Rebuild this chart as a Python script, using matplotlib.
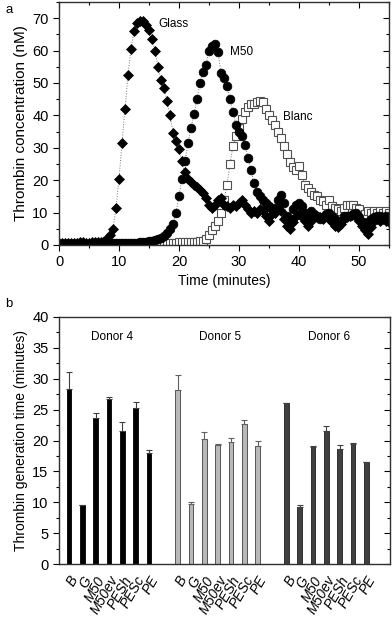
import numpy as np
import matplotlib
matplotlib.use("Agg")
import matplotlib.pyplot as plt
from matplotlib.ticker import MultipleLocator

plt.rcParams['font.family'] = ['Liberation Sans', 'DejaVu Sans']

# ---- panel a: thrombin generation curves (sampled every 0.5 min) ----
time_min = [
    0.0, 0.5, 1.0, 1.5, 2.0, 2.5, 3.0, 3.5, 4.0, 4.5,
    5.0, 5.5, 6.0, 6.5, 7.0, 7.5, 8.0, 8.5, 9.0, 9.5,
    10.0, 10.5, 11.0, 11.5, 12.0, 12.5, 13.0, 13.5, 14.0, 14.5,
    15.0, 15.5, 16.0, 16.5, 17.0, 17.5, 18.0, 18.5, 19.0, 19.5,
    20.0, 20.5, 21.0, 21.5, 22.0, 22.5, 23.0, 23.5, 24.0, 24.5,
    25.0, 25.5, 26.0, 26.5, 27.0, 27.5, 28.0, 28.5, 29.0, 29.5,
    30.0, 30.5, 31.0, 31.5, 32.0, 32.5, 33.0, 33.5, 34.0, 34.5,
    35.0, 35.5, 36.0, 36.5, 37.0, 37.5, 38.0, 38.5, 39.0, 39.5,
    40.0, 40.5, 41.0, 41.5, 42.0, 42.5, 43.0, 43.5, 44.0, 44.5,
    45.0, 45.5, 46.0, 46.5, 47.0, 47.5, 48.0, 48.5, 49.0, 49.5,
    50.0, 50.5, 51.0, 51.5, 52.0, 52.5, 53.0, 53.5, 54.0, 54.5,
    55.0,
]

glass = [
    0.5, 0.5, 0.5, 0.5, 0.5, 0.6, 0.7, 0.8, 0.8, 0.7,
    0.7, 0.8, 0.8, 0.9, 1.0, 1.3, 2.0, 3.0, 5.0, 11.5,
    20.5, 31.5, 42.0, 52.5, 60.5, 66.0, 68.5, 69.0, 69.0, 68.0,
    66.5, 63.5, 60.0, 55.0, 51.0, 48.5, 44.5, 40.0, 34.5, 32.0,
    29.5, 26.0, 22.5, 20.5, 19.5, 18.5, 18.0, 17.0, 16.0, 14.5,
    12.5, 11.5, 12.5, 14.0, 14.5, 12.5, 12.0, 11.5, 12.5, 12.0,
    13.0, 14.0, 12.5, 11.0, 10.0, 10.5, 10.0, 11.0, 10.5, 9.0,
    7.5, 9.5, 10.0, 11.5, 10.5, 8.0, 6.0, 5.0, 7.0, 9.0,
    9.5, 8.5, 7.5, 6.0, 7.5, 9.0, 8.5, 8.5, 8.0, 9.0,
    8.0, 7.0, 6.0, 5.5, 6.5, 8.0, 8.5, 9.0, 9.5, 8.5,
    7.5, 6.0, 4.5, 3.5, 5.5, 7.5, 8.0, 7.5, 8.0, 7.5,
    7.0,
]

m50 = [
    0.4, 0.4, 0.4, 0.4, 0.4, 0.4, 0.4, 0.4, 0.4, 0.4,
    0.4, 0.4, 0.4, 0.4, 0.4, 0.4, 0.4, 0.4, 0.5, 0.5,
    0.5, 0.5, 0.5, 0.6, 0.6, 0.7, 0.7, 0.8, 0.9, 1.0,
    1.1, 1.3, 1.5, 1.8, 2.2, 2.8, 3.6, 4.8, 6.5, 10.0,
    15.0, 20.5, 26.0, 31.5, 36.0, 40.5, 45.0, 50.0, 53.5, 55.5,
    60.0, 61.5, 62.0, 59.5, 53.0, 51.5, 49.0, 45.0, 41.0, 37.0,
    35.0, 33.5, 31.0, 27.0, 23.0, 19.0, 16.5, 15.0, 14.0, 13.0,
    12.0, 11.0, 11.5, 14.0, 15.5, 13.0, 9.0, 8.0, 11.0, 12.5,
    13.0, 12.0, 10.0, 9.0, 10.5, 9.5, 9.0, 8.0, 8.5, 9.5,
    10.0, 9.0, 8.0, 7.0, 7.5, 9.0, 9.0, 9.0, 9.5, 10.0,
    8.5, 7.0, 6.5, 7.0, 8.0, 8.5, 9.0, 9.0, 8.5, 9.0,
    8.5,
]

blanc = [
    0.3, 0.3, 0.3, 0.3, 0.3, 0.3, 0.3, 0.3, 0.3, 0.3,
    0.3, 0.3, 0.3, 0.3, 0.3, 0.3, 0.3, 0.3, 0.3, 0.3,
    0.4, 0.4, 0.4, 0.4, 0.4, 0.4, 0.4, 0.4, 0.4, 0.4,
    0.5, 0.5, 0.5, 0.5, 0.6, 0.6, 0.6, 0.7, 0.7, 0.7,
    0.8, 0.8, 0.8, 0.9, 0.9, 1.0, 1.0, 1.1, 1.3, 1.8,
    3.0, 4.5, 6.0, 7.5, 10.0, 14.0, 18.5, 25.0, 30.5, 33.5,
    36.0, 39.0, 41.0, 42.5, 43.5, 43.5, 44.0, 44.3, 44.2, 42.0,
    40.0, 38.5, 37.0, 35.0, 33.0, 30.5, 28.0, 25.5, 24.0, 23.0,
    24.5, 21.5, 18.5, 17.5, 16.5, 15.5, 15.0, 14.0, 13.5, 12.5,
    14.0, 12.0, 11.5, 11.0, 10.5, 11.5, 12.5, 12.5, 12.5, 11.5,
    11.0, 8.5, 9.5, 10.5, 10.0, 10.5, 10.0, 10.5, 10.0, 10.5,
    10.0,
]

# ---- panel b: thrombin generation time per surface and donor ----
surfaces = ["B", "G", "M50", "M50ev", "PESh", "PESc", "PE"]
donors = ["Donor 4", "Donor 5", "Donor 6"]
donor4_time = [28.3, 9.5, 23.7, 26.7, 21.5, 25.2, 18.0]
donor4_err = [2.8, 0.0, 0.7, 0.3, 1.5, 1.0, 0.5]
donor5_time = [28.1, 9.7, 20.2, 19.2, 19.7, 22.7, 19.1]
donor5_err = [2.5, 0.3, 1.2, 0.3, 0.7, 0.7, 0.9]
donor6_time = [26.0, 9.2, 18.9, 21.5, 18.7, 19.4, 16.5]
donor6_err = [0.0, 0.3, 0.2, 0.9, 0.5, 0.2, 0.0]

fig = plt.figure(figsize=(3.92, 6.18), dpi=100)

frame_col = "#303030"


def origin_frame(ax, xmaj, xmin, ymaj, ymin, bottom_ticks=True):
    for sp in ax.spines.values():
        sp.set_linewidth(1.0)
        sp.set_color(frame_col)
    ax.tick_params(which='both', direction='out', colors='black', labelsize=10.5,
                   width=0.8)
    ax.tick_params(which='major', length=4)
    ax.tick_params(which='minor', length=2)
    ax.yaxis.set_major_locator(MultipleLocator(ymaj))
    ax.yaxis.set_minor_locator(MultipleLocator(ymin))
    sy = ax.secondary_yaxis('right')
    sy.yaxis.set_major_locator(MultipleLocator(ymaj))
    sy.yaxis.set_minor_locator(MultipleLocator(ymin))
    sy.tick_params(which='both', direction='in', labelright=False, width=0.8)
    sy.tick_params(which='major', length=4)
    sy.tick_params(which='minor', length=2)
    sy.spines['right'].set_visible(False)
    if bottom_ticks:
        ax.xaxis.set_major_locator(MultipleLocator(xmaj))
        ax.xaxis.set_minor_locator(MultipleLocator(xmin))
        sx = ax.secondary_xaxis('top')
        sx.xaxis.set_major_locator(MultipleLocator(xmaj))
        sx.xaxis.set_minor_locator(MultipleLocator(xmin))
        sx.tick_params(which='both', direction='in', labeltop=False, width=0.8)
        sx.tick_params(which='major', length=4)
        sx.tick_params(which='minor', length=2)
        sx.spines['top'].set_visible(False)


# panel a
ax1 = fig.add_axes([59 / 392, 1 - 245 / 618, 330 / 392, 243 / 618])
line_kw = dict(linestyle=':', linewidth=0.7, color='#777777')
ax1.plot(time_min, blanc, marker='s', markersize=5.8, markerfacecolor='white',
         markeredgecolor='#505050', markeredgewidth=0.8, **line_kw)
ax1.plot(time_min, m50, marker='o', markersize=6.3, markerfacecolor='black',
         markeredgecolor='black', markeredgewidth=0.5, **line_kw)
ax1.plot(time_min, glass, marker='D', markersize=5.6, markerfacecolor='black',
         markeredgecolor='black', markeredgewidth=0.5, **line_kw)
ax1.set_xlim(0, 55)
ax1.set_ylim(0, 75)
origin_frame(ax1, 10, 5, 10, 5)
ax1.set_xlabel("Time (minutes)", fontsize=10, labelpad=3)
ax1.set_ylabel("Thrombin concentration (nM)", fontsize=11, labelpad=3)
ax1.text(16.5, 68.3, "Glass", fontsize=8.5, va='center', ha='left')
ax1.text(28.5, 59.6, "M50", fontsize=8.5, va='center', ha='left')
ax1.text(37.3, 39.4, "Blanc", fontsize=8.5, va='center', ha='left')

# panel b
ax2 = fig.add_axes([59 / 392, 1 - 564 / 618, 331 / 392, 247 / 618])
group_start = [0.0, 8.15, 16.3]
fills = ["black", "#b8b8b8", "#404040"]
edges = ["black", "#404040", "#202020"]
err_cols = ["#404040", "#606060", "#404040"]
series = [(donor4_time, donor4_err), (donor5_time, donor5_err),
          (donor6_time, donor6_err)]
tick_pos = []
tick_lab = []
for g, (vals, errs) in enumerate(series):
    xs = [group_start[g] + i for i in range(len(surfaces))]
    ax2.bar(xs, vals, width=0.34, color=fills[g], edgecolor=edges[g],
            linewidth=0.6, zorder=2)
    ax2.errorbar(xs, vals, yerr=[[0] * len(errs), errs], fmt='none',
                 ecolor=err_cols[g], elinewidth=0.8, capsize=2.2,
                 capthick=0.8, zorder=3)
    ax2.text(group_start[g] + 3.2, 36.8, donors[g], fontsize=8.5,
             ha='center', va='center')
    tick_pos += xs
    tick_lab += surfaces
ax2.set_xlim(-0.75, 24.08)
ax2.set_ylim(0, 40)
origin_frame(ax2, None, None, 5, 2.5, bottom_ticks=False)
ax2.set_xticks(tick_pos)
ax2.set_xticklabels(tick_lab, rotation=60, ha='right', va='top',
                    rotation_mode='anchor', fontsize=10, style='italic')
ax2.tick_params(axis='x', length=0, pad=7)
ax2.set_ylabel("Thrombin generation time (minutes)", fontsize=10, labelpad=3)

fig.text(5 / 392, 1 - 10 / 618, "a", fontsize=9.5, va='center', ha='left')
fig.text(5 / 392, 1 - 304 / 618, "b", fontsize=9.5, va='center', ha='left')

fig.savefig("out.png", dpi=100)
